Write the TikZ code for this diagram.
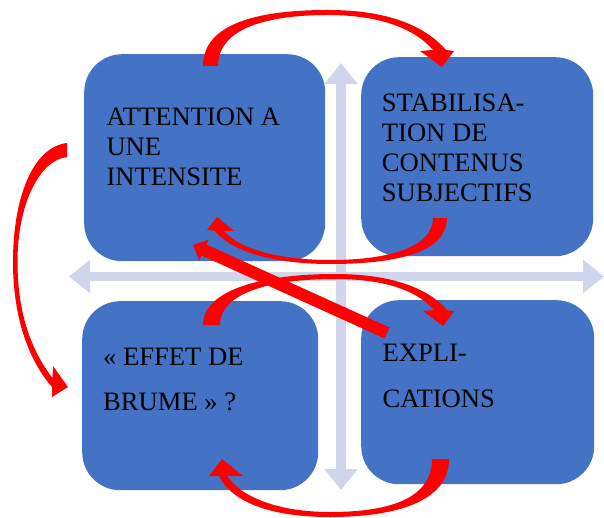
\documentclass[tikz,border=0pt]{standalone}
\usepackage{fontspec}
\setmainfont{Liberation Serif}
\usetikzlibrary{arrows.meta}
\definecolor{boxblue}{HTML}{4472C4}
\definecolor{axisgray}{RGB}{207,213,234}
\definecolor{arrowred}{HTML}{FF0000}
\tikzset{
  quad/.style={fill=boxblue, draw=none, rounded corners=38pt, anchor=north west, inner sep=0pt},
  axisarrow/.style={draw=axisgray, {Triangle[length=21pt,width=32pt]}-{Triangle[length=21pt,width=32pt]}},
  txt/.style={anchor=base west, inner sep=0pt, text=black, font=\fontsize{26.6}{29.8}\selectfont},
  txtwide/.style={anchor=base west, inner sep=0pt, text=black, font=\fontsize{26.6}{45.5}\selectfont},
  redfill/.style={fill=arrowred},
  redline/.style={draw=arrowred, line width=12pt, -{Triangle[length=12pt,width=22pt]}}
}
\begin{document}
\begin{tikzpicture}[x=1pt,y=-1pt]
\useasboundingbox (0,0) rectangle (604,518);
% axes
\coordinate (vtop) at (341,63);
\coordinate (vbot) at (341,490);
\coordinate (hleft) at (69,276.5);
\coordinate (hright) at (604,276.5);
\draw[axisarrow, line width=10pt] (vbot) -- (vtop);
\draw[axisarrow, line width=9pt] (hleft) -- (hright);
% boxes
\node[quad, minimum width=241pt, minimum height=207pt] (tl) at (84,54) {};
\node[quad, minimum width=232pt, minimum height=199pt] (tr) at (361,57) {};
\node[quad, minimum width=236pt, minimum height=189pt] (bl) at (82,301) {};
\node[quad, minimum width=233pt, minimum height=184pt] (br) at (361,300) {};
% texts
\node[txt] (ttl) at (106.3,126) {\vtop{\hbox{ATTENTION A}\hbox{UNE}\hbox{INTENSITE}}};
\node[txt] (ttr) at (381.7,111.7) {\vtop{\hbox{STABILISA-}\hbox{TION DE}\hbox{CONTENUS}\hbox{SUBJECTIFS}}};
\node[txtwide] (tbl) at (103,365) {\vtop{\hbox{«~EFFET DE}\hbox{BRUME~»~?}}};
\node[txtwide] (tbr) at (382.4,361.7) {\vtop{\hbox{EXPLI-}\hbox{CATIONS}}};
% red curved arrows (tapered block arrows)
% A: top-left box -> top-right box (over the top)
\fill[redfill] (203,66) .. controls (203,22) and (262,10) .. (328,10)
  .. controls (388,10) and (425,26) .. (446,50) -- (454,51) -- (442,67) -- (420,51) -- (433,50)
  .. controls (416,30) and (382,15) .. (328,15) .. controls (268,15) and (218,28) .. (218,66) -- cycle;
% B: top-right box -> top-left box (below)
\fill[redfill] (447,218) .. controls (447,252) and (398,264) .. (330,264)
  .. controls (275,264) and (232,252) .. (215,231) -- (207,230) -- (217,217) -- (234,231) -- (224,231)
  .. controls (240,250) and (282,260) .. (330,260) .. controls (392,260) and (433,246) .. (433,218) -- cycle;
% D: bottom-left box -> bottom-right box (over the top)
\fill[redfill] (203,325) .. controls (203,290) and (262,274) .. (335,274)
  .. controls (395,274) and (430,290) .. (447,310) -- (454,311.5) -- (443,326) -- (423,311) -- (434,310)
  .. controls (418,292) and (388,279) .. (335,279) .. controls (270,279) and (220,293) .. (220,325) -- cycle;
% E: bottom-right box -> bottom-left box (below)
\fill[redfill] (449,459) .. controls (449,502) and (395,517) .. (330,517)
  .. controls (270,517) and (232,502) .. (219,476) -- (209,476) -- (222,459) -- (243,476) -- (227,476)
  .. controls (242,498) and (280,512) .. (330,512) .. controls (395,512) and (432,496) .. (432,459) -- cycle;
% F: top-left box -> bottom-left box (left side)
\fill[redfill] (67,143) .. controls (33,147) and (13,197) .. (13,262)
  .. controls (13,320) and (30,362) .. (52,387) -- (52,397) -- (68,387) -- (53,366) -- (52.5,378)
  .. controls (34,354) and (17.5,318) .. (17.5,262) .. controls (17.5,203) and (40,160) .. (67,157) -- cycle;
% C: straight diagonal arrow bottom-right -> top-left
\coordinate (c1) at (387,333);
\coordinate (c2) at (193,245);
\draw[redline] (c1) -- (c2);
\end{tikzpicture}
\end{document}
